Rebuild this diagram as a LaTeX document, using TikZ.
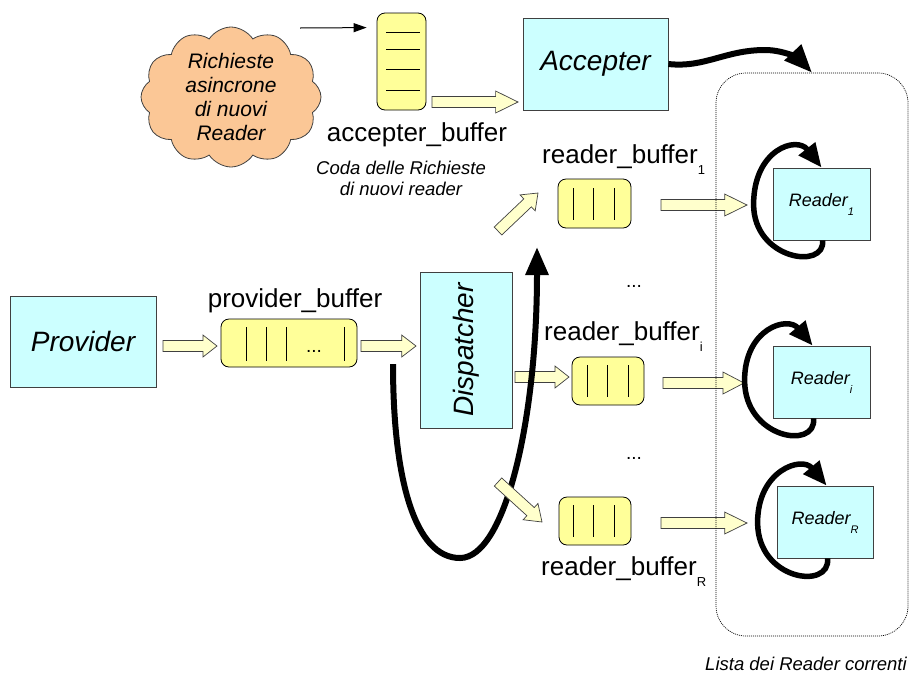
\documentclass[tikz,border=0pt]{standalone}
\usepackage{fontspec}
\setmainfont{Liberation Sans}
\usetikzlibrary{arrows.meta,shapes.symbols,calc}
\definecolor{boxcyan}{HTML}{CCFFFF}
\definecolor{bufyel}{HTML}{FFFF99}
\definecolor{arryel}{HTML}{FFFFCC}
\definecolor{cloudor}{HTML}{FBC796}
\definecolor{edgegray}{HTML}{404040}
\newcommand\bsub[1]{\raisebox{-11pt}{\fontsize{13}{13}\selectfont #1}}
\newcommand\rsub[1]{\raisebox{-9pt}{\fontsize{11}{11}\selectfont #1}}
\newcommand\yarr[3]{%
  \coordinate (#3m) at ($(#2)!0.26!(#1)$);
  \draw[yarrow] ($(#1)!5.5pt!90:(#2)$) -- ($(#3m)!5.5pt!90:(#2)$) -- ($(#3m)!11pt!90:(#2)$) -- (#2)
    -- ($(#3m)!11pt!270:(#2)$) -- ($(#3m)!5.5pt!270:(#2)$) -- ($(#1)!5.5pt!270:(#2)$) -- cycle;}
\begin{document}
\begin{tikzpicture}[x=1pt,y=-1pt,
  proc/.style={draw=edgegray, line width=0.8pt, fill=boxcyan, inner sep=0pt,
    font=\fontsize{28}{32}\selectfont\itshape},
  rdr/.style={proc, minimum width=97, minimum height=72, font=\fontsize{18}{20}\selectfont\itshape},
  buf/.style={draw=black, line width=0.8pt, fill=bufyel, rounded corners=8pt, inner sep=0pt},
  bline/.style={line width=0.8pt},
  yarrow/.style={draw=edgegray, line width=0.7pt, fill=arryel, line join=miter},
  thickarr/.style={line width=6pt, -{Triangle[length=28pt,width=22pt]}},
  looparr/.style={line width=5.5pt, -{Triangle[length=24pt,width=20pt]}},
  lbl/.style={inner sep=0pt, font=\fontsize{26}{30}\selectfont},
  note/.style={inner sep=0pt, align=center, font=\fontsize{18.5}{21}\selectfont\itshape},
  dots/.style={inner sep=0pt, font=\fontsize{19}{20}\selectfont}
]
\useasboundingbox (0,0) rectangle (912,673);

% cloud of requests
\node[cloud, cloud puffs=12, cloud puff arc=115, draw=edgegray, line width=0.8pt, fill=cloudor,
  minimum width=180, minimum height=140, inner sep=0pt] (cloud) at (231,97) {};
\node[inner sep=0pt, align=center, font=\fontsize{21}{24}\selectfont\itshape] (cloudtxt) at (231,97)
  {Richieste\\asincrone\\di nuovi\\Reader};

% accepter buffer
\node[buf, minimum width=49, minimum height=97] (abuf) at (401.5,61.5) {};
\foreach \yy in {32,49,69,90} \draw[bline] (386,\yy) -- (420,\yy);
\node[lbl, anchor=base] (abufl) at (417,141) {accepter\_buffer};
\node[note] (coda) at (401,178) {Coda delle Richieste\\di nuovi reader};

\coordinate (reqstart) at (300,28);
\draw[line width=1pt, -{Triangle[length=13pt,width=9pt]}] (reqstart) -- ($(abuf.north west)+(-10,15)$);

% accepter
\node[proc, minimum width=145, minimum height=92] (acc) at (595.5,64) {Accepter};

% provider
\node[proc, minimum width=146, minimum height=91] (prov) at (83,341.5) {Provider};
\node[buf, minimum width=136, minimum height=48] (pbuf) at (289,343) {};
\foreach \xx in {246,266,286,344} \draw[bline] (\xx,327) -- (\xx,361);
\node[dots, anchor=base] (pdots) at (314,352) {...};
\node[lbl, anchor=base] (pbufl) at (295,307) {provider\_buffer};

% dispatcher
\node[proc, rotate=90, minimum width=156, minimum height=92] (disp) at (466,350) {Dispatcher};

% reader buffers
\node[buf, minimum width=73, minimum height=49] (rb1) at (594.5,203.5) {};
\foreach \xx in {573,593,614} \draw[bline] (\xx,188) -- (\xx,220);
\node[lbl, anchor=base west] (rb1l) at (542,163) {reader\_buffer\bsub{1}};

\node[dots, anchor=base] (dots1) at (634,287) {...};

\node[buf, minimum width=72, minimum height=48] (rbi) at (608,381) {};
\foreach \xx in {587,607,628} \draw[bline] (\xx,365) -- (\xx,397);
\node[lbl, anchor=base west] (rbil) at (544,340) {reader\_buffer\bsub{i}};

\node[dots, anchor=base] (dots2) at (634,459) {...};

\node[buf, minimum width=72, minimum height=48] (rbR) at (595,521) {};
\foreach \xx in {573,593,614} \draw[bline] (\xx,505) -- (\xx,537);
\node[lbl, anchor=base west] (rbRl) at (541,575) {reader\_buffer\bsub{R}};

% readers
\node[rdr] (r1) at (821.5,204) {Reader\rsub{1}};
\node[rdr] (ri) at (821.5,382) {Reader\rsub{i}};
\node[rdr, minimum width=96] (rR) at (825,522) {Reader\rsub{R}};

% block arrows
\coordinate (a1s) at (163,346); \coordinate (a1e) at (217,346);
\coordinate (a2s) at (361,346); \coordinate (a2e) at (416,346);
\coordinate (a3s) at (432,102); \coordinate (a3e) at (518,102);
\coordinate (a4s) at (498,231); \coordinate (a4e) at (538,193);
\coordinate (a5s) at (515,377); \coordinate (a5e) at (569,377);
\coordinate (a6s) at (498,482); \coordinate (a6e) at (542,522);
\coordinate (a7s) at (661,205); \coordinate (a7e) at (747,205);
\coordinate (a8s) at (663,383); \coordinate (a8e) at (744,383);
\coordinate (a9s) at (661,523); \coordinate (a9e) at (747,523);
\yarr{a1s}{a1e}{a1}
\yarr{a2s}{a2e}{a2}
\yarr{a3s}{a3e}{a3}
\yarr{a4s}{a4e}{a4}
\yarr{a5s}{a5e}{a5}

% dispatcher feedback arrow
\coordinate (ustart) at (393,364);
\coordinate (uend) at (537,247);
\draw[thickarr] (ustart) .. controls (393,480) and (415,558) .. (460,558)
  .. controls (505,558) and (537,420) .. (uend);

\yarr{a6s}{a6e}{a6}
\yarr{a7s}{a7e}{a7}
\yarr{a8s}{a8e}{a8}
\yarr{a9s}{a9e}{a9}

% reader loops
\draw[looparr] ($(r1.south west)+(50,0)$) .. controls +(3,30) and +(0,55) .. ($(r1.south west)+(-19,-36)$)
  .. controls +(0,-55) and +(-25,-32) .. ($(r1.north west)+(49,0)$);
\draw[looparr] ($(ri.south west)+(41,0)$) .. controls +(3,32) and +(0,58) .. ($(ri.south west)+(-28,-38)$)
  .. controls +(0,-52) and +(-25,-30) .. ($(ri.north west)+(40,0)$);
\draw[looparr] ($(rR.south west)+(51,0)$) .. controls +(3,32) and +(0,58) .. ($(rR.south west)+(-19,-36)$)
  .. controls +(0,-52) and +(-25,-30) .. ($(rR.north west)+(50,0)$);

% list of current readers
\node[draw=black, line width=0.7pt, dash pattern=on 1pt off 1pt, rounded corners=30pt,
  minimum width=192, minimum height=563, inner sep=0pt] (list) at (812,354.5) {};
\node[note, anchor=base] (listl) at (806,670) {Lista dei Reader correnti};

% accepter to list
\draw[thickarr] (acc.east) .. controls (705,68) and (725,50) .. (765,50)
  .. controls (785,50) and (800,60) .. (list.north);
\end{tikzpicture}
\end{document}
